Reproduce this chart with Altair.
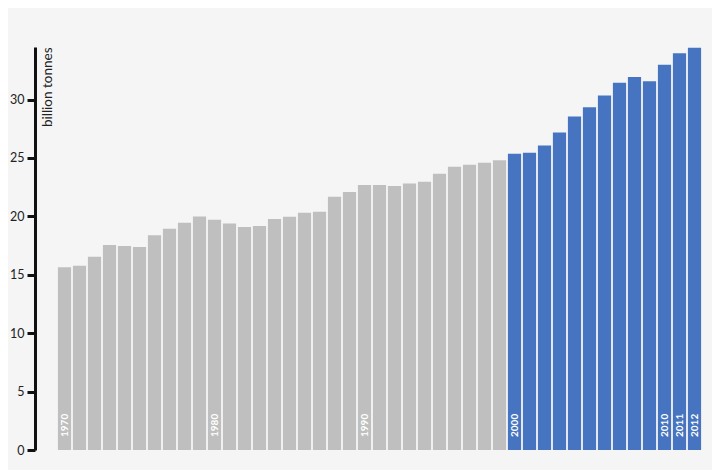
import altair as alt
import pandas as pd

years = list(range(1970, 2013))
values = [15.64, 15.78, 16.55, 17.55, 17.47, 17.38, 18.38, 18.95, 19.46, 20.0,
          19.72, 19.38, 19.09, 19.17, 19.77, 19.97, 20.31, 20.4, 21.68, 22.08,
          22.68, 22.68, 22.6, 22.82, 22.96, 23.65, 24.25, 24.42, 24.59, 24.81,
          25.36, 25.44, 26.07, 27.18, 28.55, 29.34, 30.34, 31.43, 31.94, 31.56,
          32.99, 33.96, 34.44]
label_years = [1970, 1980, 1990, 2000, 2010, 2011, 2012]
y_ticks = [0, 5, 10, 15, 20, 25, 30]

df = pd.DataFrame({"year": years, "value": values})
df["period"] = ["after" if y >= 2000 else "before" for y in years]
df["label"] = [str(y) if y in label_years else "" for y in years]
df["zero"] = 0

FONT = "Lato"

x = alt.X("year:O", axis=None,
          scale=alt.Scale(paddingInner=0.12, paddingOuter=0.06))
y_scale = alt.Scale(domain=[0, 34.5], nice=False, zero=True)

bars = alt.Chart(df).mark_bar().encode(
    x=x,
    y=alt.Y("value:Q", scale=y_scale,
            axis=alt.Axis(values=y_ticks, title="billion tonnes", grid=False,
                          offset=22, domainWidth=3, domainColor="#111",
                          tickWidth=3, tickSize=8, tickColor="#111",
                          labelFont=FONT, labelFontSize=12.5, labelColor="#222",
                          labelPadding=3,
                          titleFont=FONT, titleFontSize=13.5, titleFontWeight="normal",
                          titleColor="#222", titleAngle=270, titleAlign="right",
                          titleBaseline="top", titleX=5, titleY=0)),
    color=alt.Color("period:N",
                    scale=alt.Scale(domain=["before", "after"],
                                    range=["#bfbfbf", "#4674c1"]),
                    legend=None),
)

labels = alt.Chart(df).transform_filter("datum.label != ''").mark_text(
    angle=270, align="left", baseline="middle", dx=13, color="white",
    font=FONT, fontSize=10, fontWeight="bold",
).encode(
    x=x,
    y=alt.Y("zero:Q", scale=y_scale),
    text="label:N",
)

chart = alt.layer(bars, labels).properties(
    width=645, height=403,
    padding={"left": 49, "top": 39, "right": 10, "bottom": 20},
    autosize="none",
    background="#f5f5f5",
).configure_view(stroke=None)

chart.save("out.html", embed_options={"renderer": "svg", "actions": False})
